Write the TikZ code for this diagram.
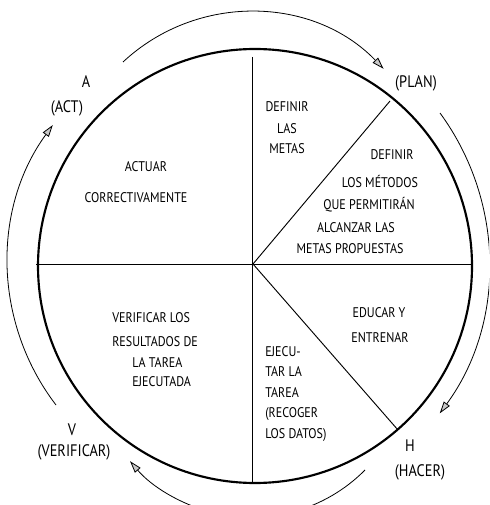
\documentclass[tikz,border=0pt]{standalone}
\usepackage{fontspec}
\setmainfont{PT Sans}[FakeStretch=0.86]
\usepackage{xcolor}
\definecolor{pdcagray}{RGB}{200, 200, 200}
\usetikzlibrary{arrows.meta}

\tikzset{
  rueda/.style={line width=1.6pt},
  division/.style={line width=0.7pt},
  flecha/.style={line width=0.6pt,
    -{Triangle[length=9pt, width=5.5pt, fill=pdcagray]}},
  txt/.style={inner sep=0pt, font=\fontsize{10.5}{12}\selectfont},
  etiqueta/.style={inner sep=0pt, font=\fontsize{12.5}{14}\selectfont}
}

\begin{document}
\begin{tikzpicture}[x=0.75pt, y=-0.75pt]
    \useasboundingbox (0,0) rectangle (489,505);
    \clip (0,0) rectangle (489,505);

    % rueda y divisiones
    \coordinate (c) at (255,266);
    \coordinate (o) at (253,264);
    \draw[rueda] (c) circle[radius=217];
    \draw[division] (36,264) -- (473,264);
    \draw[division] (252,57) -- (252,483);
    \draw[division] (o) -- (390,101);
    \draw[division] (o) -- (398,430);

    % flechas del ciclo
    \coordinate (arcP) at (123,62);
    \coordinate (arcH) at (440,113);
    \coordinate (arcV) at (365,470);
    \coordinate (arcA) at (56,405);
    \draw[flecha] (arcP) arc[start angle=-133, end angle=-44, radius=186];
    \draw[flecha] (arcH) arc[start angle=-36.2, end angle=36.3, radius=254];
    \draw[flecha] (arcV) arc[start angle=44.7, end angle=139.6, radius=159.6];
    \draw[flecha] (arcA) arc[start angle=142.6, end angle=216.1, radius=234];

    % etiquetas
    \node[etiqueta] (a) at (86,82) {A};
    \node[etiqueta] (act) at (67,108) {(ACT)};
    \node[etiqueta] (plan) at (416,83) {(PLAN)};
    \node[etiqueta] (h) at (410,446) {H};
    \node[etiqueta] (hacer) at (420,472) {(HACER)};
    \node[etiqueta] (v) at (72,430) {V};
    \node[etiqueta] (verificar) at (74,452) {(VERIFICAR)};

    % textos de los sectores
    \node[txt] (metas1) at (287,107) {DEFINIR};
    \node[txt] (metas2) at (287,129) {LAS};
    \node[txt] (metas3) at (287,149) {METAS};
    \foreach \t/\x/\y [count=\i] in {{DEFINIR}/392/155, {LOS MÉTODOS}/380/181,
        {QUE PERMITIRÁN}/369/205, {ALCANZAR LAS}/356/228,
        {METAS PROPUESTAS}/350/249}
      \node[txt] (metodo\i) at (\x,\y) {\t};
    \node[txt] (actuar1) at (146,167) {ACTUAR};
    \node[txt] (actuar2) at (136,198) {CORRECTIVAMENTE};
    \foreach \t/\x/\y [count=\i] in {{VERIFICAR LOS}/112/318,
        {RESULTADOS DE}/112/342, {LA TAREA}/132/363, {EJECUTADA}/132/382}
      \node[txt, anchor=west] (verif\i) at (\x,\y) {\t};
    \node[txt] (educar1) at (379,313) {EDUCAR Y};
    \node[txt] (educar2) at (380,338) {ENTRENAR};
    \foreach \t/\y [count=\i] in {{EJECU-}/352, {TAR LA}/372, {TAREA}/393,
        {(RECOGER}/414, {LOS DATOS)}/435}
      \node[txt, anchor=west] (ejec\i) at (265,\y) {\t};
\end{tikzpicture}
\end{document}
